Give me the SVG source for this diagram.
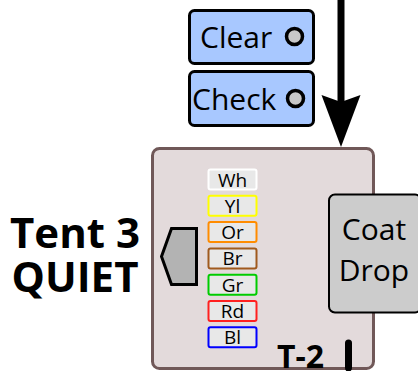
<svg xmlns="http://www.w3.org/2000/svg" width="418" height="371" viewBox="0 0 418 371">
<style>
text{font-family:"Open Sans","Noto Sans","DejaVu Sans",sans-serif;fill:#000}
.btn{fill:#a8c8ff;stroke:#000;stroke-width:3}
.led{fill:#c8c8c8;stroke:#000;stroke-width:3.5}
.tag{fill:#e8e8e8;stroke-width:2}
.tagt{font-size:19px;text-anchor:middle}
</style>
<g id="main-box">
<rect x="152.5" y="148.5" width="221" height="220" rx="7" fill="#e3dadb" stroke="#705858" stroke-width="3"/>
</g>
<g id="connectors">
<line x1="341" y1="0" x2="341" y2="102" stroke="#000" stroke-width="7"/>
<path d="M321.5,95 L341,102 L360.5,95 L341,147 Z" fill="#000"/>
</g>
<g id="clear">
<rect class="btn" x="189.5" y="10.5" width="124" height="53" rx="5"/>
<text x="200" y="48" font-size="30">Clear</text>
<circle class="led" cx="294.5" cy="36.5" r="8"/>
</g>
<g id="check">
<rect class="btn" x="189.5" y="71.5" width="124" height="54" rx="5"/>
<text x="192" y="110" font-size="30">Check</text>
<circle class="led" cx="295.5" cy="98.5" r="8"/>
</g>
<g id="tent-label">
<text x="75" y="248" font-size="42" font-weight="bold" text-anchor="middle">Tent 3</text>
<text x="75" y="292" font-size="42" font-weight="bold" text-anchor="middle">QUIET</text>
</g>
<g id="door">
<polygon points="196.5,228.5 171.5,228.5 161.5,256.5 171.5,284.5 196.5,284.5" fill="#b3b3b3" stroke="#000" stroke-width="3"/>
</g>
<g id="tags">
<rect class="tag" x="208.5" y="169.5" width="48" height="20" rx="2" stroke="#ffffff"/>
<text class="tagt" x="232.5" y="186.5">Wh</text>
<rect class="tag" x="208.5" y="195.8" width="48" height="20" rx="2" stroke="#ffff00"/>
<text class="tagt" x="232.5" y="212.8">Yl</text>
<rect class="tag" x="208.5" y="222.1" width="48" height="20" rx="2" stroke="#ff8c00"/>
<text class="tagt" x="232.5" y="239.1">Or</text>
<rect class="tag" x="208.5" y="248.4" width="48" height="20" rx="2" stroke="#a05a1e"/>
<text class="tagt" x="232.5" y="265.4">Br</text>
<rect class="tag" x="208.5" y="274.7" width="48" height="20" rx="2" stroke="#00cc00"/>
<text class="tagt" x="232.5" y="291.7">Gr</text>
<rect class="tag" x="208.5" y="301" width="48" height="20" rx="2" stroke="#ff2020"/>
<text class="tagt" x="232.5" y="318">Rd</text>
<rect class="tag" x="208.5" y="327.3" width="48" height="20" rx="2" stroke="#0000ff"/>
<text class="tagt" x="232.5" y="344.3">Bl</text>
</g>
<g id="coat-drop">
<rect x="329" y="194.5" width="92" height="118" rx="6" fill="#cccccc" stroke="#000" stroke-width="2"/>
<text x="374" y="240" font-size="30" text-anchor="middle">Coat</text>
<text x="374" y="281" font-size="30" text-anchor="middle">Drop</text>
</g>
<g id="t2">
<text x="277" y="368" font-size="32" font-weight="bold">T-2</text>
<line x1="348.5" y1="343" x2="348.5" y2="368" stroke="#000" stroke-width="7" stroke-linecap="round"/>
</g>
</svg>
